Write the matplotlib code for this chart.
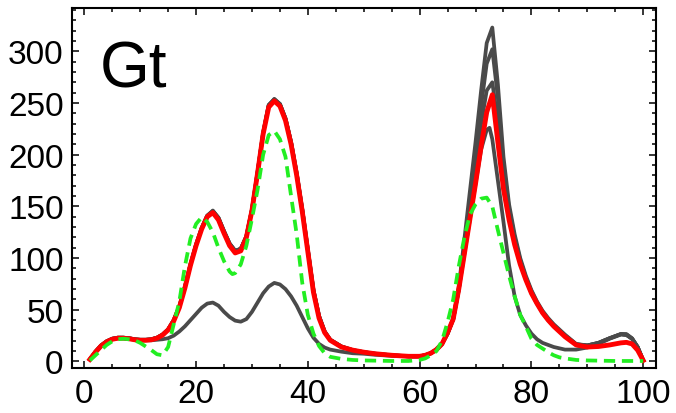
import numpy as np
import matplotlib
matplotlib.use('Agg')
import matplotlib.pyplot as plt
from matplotlib.ticker import MultipleLocator

plt.rcParams['font.family'] = ['Liberation Sans', 'DejaVu Sans']

# curves as (x, y) pairs
red = [(1,2),(2,9),(3,15),(4,19),(5,21.5),(6,22.5),(7,22.5),(8,22),(9,21),(10,20.5),(11,20.5),(12,21),
       (13,22.5),(14,25.5),(15,30.5),(16,39),(17,52),(18,71),(19,93),(20,112),(21,128),(22,140),(23,144),
       (24,137),(25,124),(26,112),(27,105),(28,107),(29,120),(30,146),(31,182),(32,220),(33,246),(34,252),
       (35,247),(36,233),(37,210),(38,180),(39,145),(40,106),(41,67),(42,42),(43,28),(44,20.5),(46,14),
       (48,11),(50,9),(52,7.5),(55,6),(58,5),(60,5),(61,6),(62,8),(63,11.5),(64,17),(65,28),(66,41),
       (67,70),(68,104),(69,138),(70,172),(71,208),(72,241),(73,258),(74,212),(75,167),(76,137),(77,113),
       (78,94),(79,79),(80,66),(81,56),(82,47),(83,40),(84,34),(86,24),(88,16),(90,14),(92,14.5),(94,16),
       (96,18),(97,18.5),(98,17),(99,11),(100,1)]

gray_a = [(1,2),(2,9.5),(3,15.5),(4,19.5),(5,22),(6,23),(7,23),(8,22.5),(9,21.5),(10,21),(11,21),(12,21.5),
          (13,23),(14,26),(15,31),(16,40),(17,53),(18,72),(19,94),(20,113),(21,129),(22,141),(23,146),
          (24,139),(25,126),(26,114),(27,107),(28,109),(29,121),(30,147),(31,183),(32,221),(33,248),(34,254),
          (35,249),(36,235),(37,212),(38,182),(39,147),(40,108),(41,69),(42,44),(43,29),(44,21),(46,14.5),
          (48,11),(50,9),(52,7.5),(55,6),(58,5),(60,5),(61,6),(62,8),(63,11.5),(64,17),(65,27),(66,41),
          (67,72),(68,118),(69,165),(70,212),(71,262),(72,308),(73,323),(74,268),(75,198),(76,152),(77,123),
          (78,100),(79,83),(80,69),(81,58),(82,49),(83,42),(84,36),(86,26),(88,17),(90,15.5),(92,18),
          (94,22.5),(96,26.5),(97,26.5),(98,22.5),(99,14),(100,1)]

gray_b = [(1,2),(2,9.5),(3,15.5),(4,19.5),(5,22),(6,23),(7,23),(8,22.5),(9,21.5),(10,21),(11,21),(12,21.5),
          (13,23),(14,26),(15,31),(16,40),(17,53),(18,72),(19,94),(20,113),(21,129),(22,141),(23,145.5),
          (24,139),(25,126),(26,114),(27,107),(28,109),(29,121),(30,147),(31,183),(32,221),(33,248),(34,253.5),
          (35,249),(36,235),(37,212),(38,182),(39,147),(40,108),(41,69),(42,44),(43,29),(44,21),(46,14.5),
          (48,11),(50,9),(52,7.5),(55,6),(58,5),(60,5),(61,6),(62,8),(63,11.5),(64,17),(65,27),(66,41),
          (67,70),(68,112),(69,155),(70,200),(71,247),(72,288),(73,302),(74,255),(75,190),(76,148),(77,120),
          (78,98),(79,81),(80,68),(81,57),(82,48),(83,41),(84,35),(86,25),(88,16.5),(90,15.5),(92,18),
          (94,22.5),(96,26.5),(97,26),(98,22),(99,14),(100,1)]

gray_c = [(1,2),(2,9.5),(3,15.5),(4,19.5),(5,22),(6,23),(7,23),(8,22.5),(9,21.5),(10,21),(11,21),(12,21.5),
          (13,23),(14,26),(15,31),(16,40),(17,53),(18,72),(19,94),(20,113),(21,129),(22,141),(23,145),
          (24,139),(25,126),(26,114),(27,107),(28,109),(29,121),(30,147),(31,183),(32,221),(33,248),(34,253),
          (35,249),(36,235),(37,212),(38,182),(39,147),(40,108),(41,69),(42,44),(43,29),(44,21),(46,14.5),
          (48,11),(50,9),(52,7.5),(55,6),(58,5),(60,5),(61,6),(62,8),(63,11.5),(64,17),(65,27),(66,41),
          (67,69),(68,108),(69,148),(70,188),(71,230),(72,262),(73,270),(74,232),(75,180),(76,143),(77,117),
          (78,96),(79,80),(80,66),(81,56),(82,47),(83,40),(84,34.5),(86,25),(88,16.5),(90,15.5),(92,18),
          (94,22.5),(96,26.5),(97,26),(98,22),(99,14),(100,1)]

gray_low = [(1,2),(2,9),(3,15),(4,19),(5,21.5),(6,22.5),(7,22.5),(8,22),(9,21),(10,20.5),(11,20.5),(12,20.5),
            (13,21),(14,21.5),(15,22.5),(16,25),(17,29),(18,34),(19,40),(20,46),(21,52),(22,56),(23,57),
            (24,54),(25,48),(26,43),(27,39.5),(28,38.5),(29,41),(30,48),(31,57),(32,66),(33,72.5),(34,76),
            (35,74.5),(36,70),(37,63),(38,54),(39,43),(40,32),(41,23),(42,17),(43,13.5),(44,11.5),(46,9.5),
            (48,8),(50,7.5),(52,6.5),(55,5.5),(58,5),(60,5),(61,6),(62,8),(63,11.5),(64,17),(65,27),(66,41),
            (67,70),(68,104),(69,138),(70,172),(71,205),(72,224),(72.5,226),(73,215),(74,175),(75,135),
            (76,93),(77,63),(78,45),(79,35),(80,27),(81,21.5),(82,18),(84,14),(86,11.5),(88,11.5),(90,13.5),
            (92,17),(94,22),(96,26),(97,25.5),(98,22),(99,14),(100,1)]

green = [(1,1),(2,6),(3,11),(4,16),(5,19.5),(6,21.5),(7,22),(8,21.5),(9,20.5),(10,18),(11,14.5),(12,11),
         (13,7),(14,6),(15,14),(16,36),(17,58),(18,92),(19,119),(20,133),(21,139.5),(22,135),(23,125),
         (24,110),(25,97),(26,87),(26.5,84.5),(27,85.5),(28,94),(29,112),(30,138),(31,166),(32,200),
         (33,219),(34,223),(35,215),(36,198),(37,160),(38,123),(39,76),(40,45),(41,27),(42,15),(43,8),
         (44,4.5),(46,2.5),(48,1.5),(50,1),(55,0.5),(58,0.5),(60,1.5),(61,3),(62,6),(63,10),(64,20),
         (65,38),(66,60),(67,92),(68,120),(69,142),(70,152),(71,157.5),(72,158.5),(73,150),(74,127),
         (75,105),(76,83),(77,63),(78,45),(79,34),(80,22),(81,16),(82,12.5),(83,9),(84,6),(85,4),(86,3),
         (88,1.5),(90,1),(95,0.5),(100,0.5)]

fig = plt.figure(figsize=(6.76, 4.14), dpi=100)
ax = fig.add_axes([0.1065, 0.1087, 0.864, 0.8696])

for g in [gray_a, gray_b, gray_c, gray_low]:
    g = np.array(g)
    ax.plot(g[:, 0], g[:, 1], color='#4a4a4a', lw=2.7)
r = np.array(red)
ax.plot(r[:, 0], r[:, 1], color='#ff0000', lw=3.5)
gr = np.array(green)
ax.plot(gr[:, 0], gr[:, 1], color='#22ee22', lw=2.7, linestyle=(0, (3.0, 1.8)))

ax.set_xlim(-2.2, 102.3)
ax.set_ylim(-6.3, 341.9)
ax.xaxis.set_major_locator(MultipleLocator(20))
ax.xaxis.set_minor_locator(MultipleLocator(5))
ax.yaxis.set_major_locator(MultipleLocator(50))
ax.yaxis.set_minor_locator(MultipleLocator(10))
ax.tick_params(which='both', direction='in', top=True, right=True, width=1.1, labelsize=24)
ax.tick_params(which='major', length=5)
ax.tick_params(which='minor', length=3)
ax.tick_params(axis='x', which='major', pad=7)
ax.tick_params(axis='y', which='major', pad=6)
for s in ax.spines.values():
    s.set_linewidth(1.5)

ax.text(0.048, 0.783, 'Gt', transform=ax.transAxes, fontsize=46, ha='left', va='baseline')

fig.savefig('out.png', dpi=100)
